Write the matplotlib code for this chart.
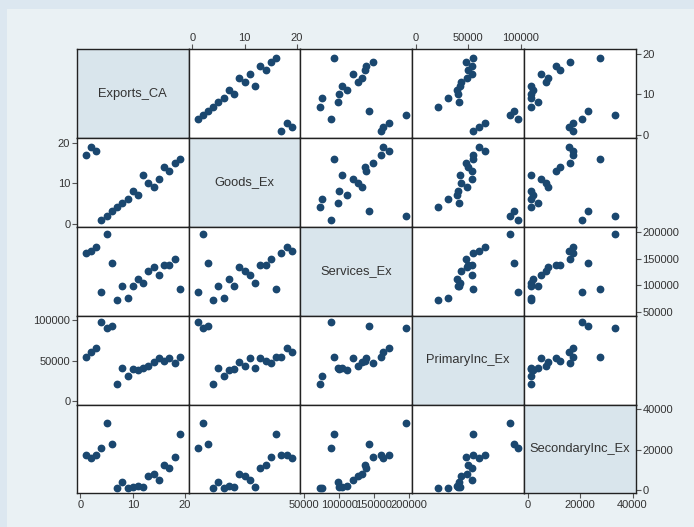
import matplotlib
matplotlib.use('Agg')
import matplotlib.pyplot as plt
from matplotlib.patches import Rectangle

# variable names (diagonal labels)
names = ['Exports_CA', 'Goods_Ex', 'Services_Ex', 'PrimaryInc_Ex', 'SecondaryInc_Ex']

exports_ca = [1, 2, 3, 4, 5, 6, 7, 8, 9, 10, 11, 12, 13, 14, 15, 16, 17, 18, 19]
goods_ex = [17, 19, 18, 1, 2, 3, 4, 5, 6, 8, 7, 12, 10, 9, 11, 14, 13, 15, 16]
services_ex = [160000, 163500, 171500, 88500, 196000, 142500, 72300, 98500, 76000, 99500,
               112000, 104500, 126500, 133500, 119500, 137500, 138500, 149000, 93000]
primaryinc_ex = [54300, 60400, 66100, 97600, 90200, 93200, 21000, 40900, 31000, 40400,
                 39200, 41600, 43300, 48600, 53200, 49800, 53500, 47700, 54300]
secondaryinc_ex = [17100, 15800, 17100, 20700, 33400, 23000, 1100, 3800, 1200, 1300,
                   2100, 1300, 6800, 7800, 4900, 12200, 10900, 16100, 27500]

series = [exports_ca, goods_ex, services_ex, primaryinc_ex, secondaryinc_ex]

# axis ticks per variable
ticks = [
    [0, 10, 20],
    [0, 10, 20],
    [50000, 100000, 150000, 200000],
    [0, 50000, 100000],
    [0, 20000, 40000],
]

W, H = 694, 527
fig = plt.figure(figsize=(W / 100, H / 100), dpi=100, facecolor='#dce7f0')
fig.patches.append(Rectangle((7 / W, 0), 1 - 7 / W, 1 - 9 / H, transform=fig.transFigure,
                             facecolor='#eaf1f4', edgecolor='none', zorder=-10))

axes = fig.subplots(5, 5, gridspec_kw=dict(wspace=0, hspace=0))
fig.subplots_adjust(left=76.7 / W, right=636 / W, top=1 - 49.3 / H, bottom=1 - 493.3 / H)


def lims(t, lo, hi):
    span = t[-1] - t[0]
    return t[0] - lo * span, t[-1] + hi * span


marker_col = '#1a476f'
text_col = '#333333'

for i in range(5):
    for j in range(5):
        ax = axes[i, j]
        ax.set_zorder(1)
        ax.set_xlim(*lims(ticks[j], 0.036, 0.033))
        ax.set_ylim(*lims(ticks[i], 0.041, 0.059))
        if i == j:
            ax.set_facecolor('#d9e5ec')
            ax.text(0.5, 0.5, names[i], transform=ax.transAxes, ha='center', va='center',
                    fontsize=9.3, color=text_col, family='Liberation Sans')
        else:
            ax.set_facecolor('white')
            ax.plot(series[j], series[i], 'o', ms=4.6, color=marker_col, mec=marker_col)
        for s in ax.spines.values():
            s.set_color('#222222')
            s.set_linewidth(1.0)

        ax.set_xticks([])
        ax.set_yticks([])
        ax.tick_params(length=3.4, width=0.8, color='#555555', pad=1.2,
                       labelsize=8, labelcolor=text_col)

        # Stata-style alternating axes
        if i == 0 and j in (1, 3):
            ax.xaxis.tick_top()
            ax.set_xticks(ticks[j])
            ax.set_xticklabels([str(t) for t in ticks[j]], family='Liberation Sans')
        if i == 4 and j in (0, 2, 4):
            ax.xaxis.tick_bottom()
            ax.set_xticks(ticks[j])
            ax.set_xticklabels([str(t) for t in ticks[j]], family='Liberation Sans')
        if j == 0 and i in (1, 3):
            ax.yaxis.tick_left()
            ax.set_yticks(ticks[i])
            ax.set_yticklabels([str(t) for t in ticks[i]], family='Liberation Sans')
        if j == 4 and i in (0, 2, 4):
            ax.yaxis.tick_right()
            ax.set_yticks(ticks[i])
            ax.set_yticklabels([str(t) for t in ticks[i]], family='Liberation Sans')

plt.savefig('out.png', dpi=100, facecolor=fig.get_facecolor())
